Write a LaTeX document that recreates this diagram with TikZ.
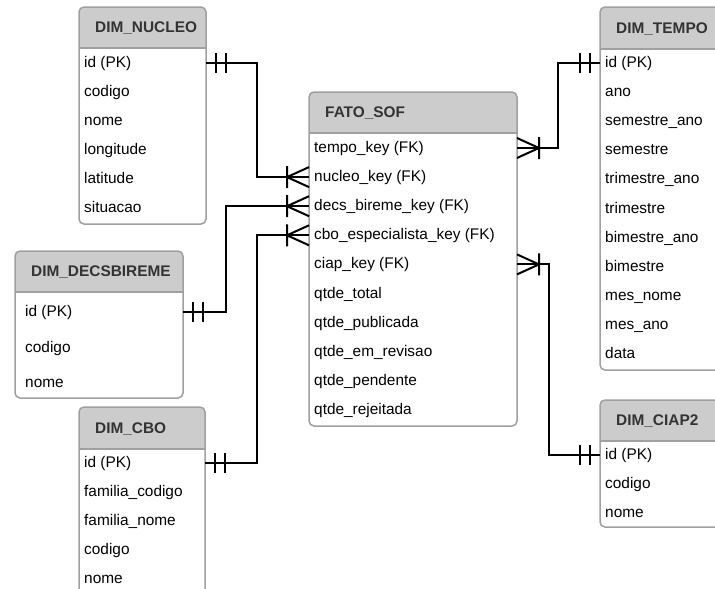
\documentclass[tikz,border=0pt]{standalone}
\usepackage{fontspec}
\setmainfont{Liberation Sans}
\definecolor{hdrfill}{HTML}{CCCCCC}
\definecolor{boxline}{HTML}{A0A0A0}
\definecolor{titletext}{HTML}{333333}
\tikzset{
  tbl/.style={draw=boxline, line width=1.5pt, rounded corners=5pt, outer sep=0pt, inner sep=0pt},
  sepline/.style={draw=boxline, line width=1.5pt},
  tbltitle/.style={font=\fontsize{15.4}{18}\selectfont\bfseries, text=titletext, anchor=west, inner sep=0pt},
  rowtext/.style={font=\fontsize{15.4}{18}\selectfont, text=black, anchor=base west, inner sep=0pt},
  conn/.style={draw=black, line width=2pt},
  one/.pic={\draw[conn] (10,-10) -- (10,10) (20,-10) -- (20,10);},
  many/.pic={\draw[conn] (0,-10) -- (22,0) -- (0,10) (22,-11) -- (22,11);}
}
% table frame: name, left, top, right, header bottom, bottom, title
\newcommand{\ertable}[7]{%
  \begin{scope}
    \clip (#2,#3) rectangle (#4,#5);
    \fill[hdrfill, rounded corners=5pt] (#2,#3) rectangle (#4,#5+12);
  \end{scope}
  \node[tbl, anchor=north west, minimum width={#4-#2}, minimum height={#6-#3}] (#1) at (#2,#3) {};
  \draw[sepline] (#2,#5) -- (#4,#5);
  \node[tbltitle] (#1-title) at ({#2+16},{(#3+#5)/2+1}) {#7};
}
% table rows: name, text x, first row centre, row step, list of fields
\newcommand{\errows}[5]{%
  \foreach \txt [count=\i] in {#5} {
    \node[rowtext] (#1-\i) at (#2,{#3+(\i-1)*#4+5.5}) {\txt};
    \coordinate (#1-y\i) at (#2,{#3+(\i-1)*#4+1});
  }
}
\begin{document}
\begin{tikzpicture}[x=1pt,y=-1pt]
\clip (0,0) rectangle (715,589);
\fill[white] (0,0) rectangle (715,589);

% dimension and fact tables
\ertable{nucleo}{79}{7}{206}{48}{224}{DIM\_NUCLEO}
\errows{nucleo}{84}{62}{29}{id (PK),codigo,nome,longitude,latitude,situacao}

\ertable{fato}{309}{92}{517}{133}{426}{FATO\_SOF}
\errows{fato}{314}{147}{29.1}{tempo\_key (FK),nucleo\_key (FK),decs\_bireme\_key (FK),cbo\_especialista\_key (FK),ciap\_key (FK),qtde\_total,qtde\_publicada,qtde\_em\_revisao,qtde\_pendente,qtde\_rejeitada}

\ertable{decs}{15}{251}{183}{292}{398}{DIM\_DECSBIREME}
\errows{decs}{25}{311}{35.5}{id (PK),codigo,nome}

\ertable{cbo}{79}{407}{205}{449}{610}{DIM\_CBO}
\errows{cbo}{84}{462}{29}{id (PK),familia\_codigo,familia\_nome,codigo,nome}

\ertable{tempo}{600}{7}{740}{49}{370}{DIM\_TEMPO}
\errows{tempo}{605}{62}{29.1}{id (PK),ano,semestre\_ano,semestre,trimestre\_ano,trimestre,bimestre\_ano,bimestre,mes\_nome,mes\_ano,data}

\ertable{ciap}{600}{400}{740}{441}{527}{DIM\_CIAP2}
\errows{ciap}{605}{454}{29}{id (PK),codigo,nome}

% relationships
\draw[conn] (nucleo.east |- nucleo-y1) -- ++(51,0) |- (fato.west |- fato-y2);
\pic at (nucleo.east |- nucleo-y1) {one};
\pic[rotate=180] at (fato.west |- fato-y2) {many};

\draw[conn] (decs.east |- decs-y1) -- ++(43,0) |- (fato.west |- fato-y3);
\pic at (decs.east |- decs-y1) {one};
\pic[rotate=180] at (fato.west |- fato-y3) {many};

\draw[conn] (cbo.east |- cbo-y1) -- ++(52,0) |- (fato.west |- fato-y4);
\pic at (cbo.east |- cbo-y1) {one};
\pic[rotate=180] at (fato.west |- fato-y4) {many};

\draw[conn] (fato.east |- fato-y1) -- ++(41,0) |- (tempo.west |- tempo-y1);
\pic at (fato.east |- fato-y1) {many};
\pic[rotate=180] at (tempo.west |- tempo-y1) {one};

\draw[conn] (fato.east |- fato-y5) -- ++(32,0) |- (ciap.west |- ciap-y1);
\pic at (fato.east |- fato-y5) {many};
\pic[rotate=180] at (ciap.west |- ciap-y1) {one};
\end{tikzpicture}
\end{document}
